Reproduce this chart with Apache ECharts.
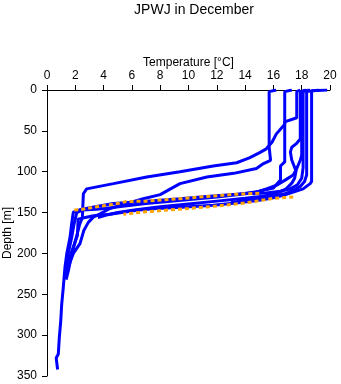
<!DOCTYPE html>
<html><head><meta charset="utf-8">
<script src="https://cdn.jsdelivr.net/npm/echarts@6/dist/echarts.min.js"></script>
<style>html,body{margin:0;padding:0;background:#fff}#c{width:341px;height:384px}</style>
</head><body><div id="c"></div>
<script>
const chartTitle = 'JPWJ in December';
const xName = 'Temperature [°C]';
const yName = 'Depth [m]';
const tempTicks = [0, 2, 4, 6, 8, 10, 12, 14, 16, 18, 20];
const depthTicks = [0, 50, 100, 150, 200, 250, 300, 350];

// Blue profiles: [temperature °C, depth m]
const profileA = [[16.2,0],[15.7,2],[15.7,70],[15.8,86],[15.3,90],[14.8,96],[13.2,102],[11.3,106.5],[9.4,114.6],[8.0,128],[6.8,133],[5.6,139],[4.45,145],[3.75,151.6],[3.27,155.6],[2.92,162],[2.6,172],[2.33,188],[1.86,200],[1.5,217],[1.35,228]];
const profileB = [[17.3,0],[16.8,2],[16.8,42],[16.2,54],[15.9,64],[15.5,72],[15.0,77],[14.3,83],[13.4,89],[11.75,93],[9.4,100],[7.05,106.5],[4.7,114.6],[2.8,121],[2.57,127],[2.5,156],[2.3,165],[2.0,185],[1.7,205],[1.5,222],[1.35,232]];
const profileC = [[17.9,0],[17.65,2],[17.65,34],[16.8,39],[16.8,88],[16.5,93],[16.5,110],[16.0,120],[15.0,124],[14.0,127],[12.0,131],[9.5,135],[7.0,139],[5.5,142],[4.5,144],[3.5,146],[2.5,147],[2.1,150],[1.9,165],[1.75,180],[1.5,200],[1.35,215]];
const profileD = [[18.5,0],[18.0,2],[18.0,80],[17.9,86],[17.6,98],[17.4,104],[16.8,110.6],[16.2,116.7],[15.5,121],[14.8,125],[13.4,127.5],[11.5,130],[9.4,133],[7.05,136],[4.7,139],[3.5,142.5],[2.3,146.6],[1.86,149.5],[1.74,164],[1.63,180],[1.4,200],[1.27,217],[1.2,231],[1.15,242],[1.04,262],[0.97,283],[0.87,303],[0.8,323],[0.65,328],[0.75,342]];
const profileE = [[19.8,0],[18.7,1],[18.7,112],[18.6,114.6],[18.1,121],[17.4,125],[16.7,129],[16.0,132],[15.0,135],[13.5,138],[11.75,141],[9.5,143.5],[7.75,145],[6.5,147],[5.4,149.5],[4.45,152],[3.3,154],[2.7,156],[2.2,158],[2.15,178],[1.9,190],[1.6,205],[1.4,220],[1.3,230]];
const profileF = [[18.3,0],[17.9,2],[17.9,60],[17.6,66],[17.3,70],[17.2,76],[17.3,86],[17.6,99],[17.5,108],[17.3,114],[16.9,121],[16.3,126],[15.3,130],[14.0,132.5],[12.0,136],[10.0,139.5],[8.0,143],[6.3,146.5],[5.0,150],[4.2,153],[3.6,156]];
const profileG = [[19.2,0],[18.35,2],[18.35,104],[18.2,112],[17.9,118],[17.4,123],[16.8,127],[16.0,130],[15.0,133],[14.0,135],[13.0,138]];
const profileH = [[18.6,0],[18.1,2],[18.1,95],[18.0,108],[17.7,116],[17.2,121],[16.5,124],[15.5,126],[14.5,127]];

// Orange observations
const orangeUpper = [[15.0,126.5],[13.4,127.5],[11.5,130],[9.4,133],[7.05,136],[5.6,136.5],[4.7,140],[3.5,143],[2.3,146.6],[1.9,147]];
const orangeLower = [[17.4,131],[16.0,132.5],[14.5,137],[13.6,139],[12.0,142],[10.0,145],[8.5,147],[7.0,149],[5.4,152]];

const blueProfiles = [profileA, profileB, profileC, profileD, profileE, profileF, profileG, profileH];
const orangeProfiles = [orangeUpper, orangeLower];

const FONT = '"Liberation Sans", Arial, sans-serif';
const series = [];
blueProfiles.forEach(p => series.push({
  type: 'line', data: p, showSymbol: false, silent: true,
  lineStyle: { color: '#0000ff', width: 3 }
}));
orangeProfiles.forEach(p => series.push({
  type: 'line', data: p, showSymbol: false, silent: true,
  lineStyle: { color: '#ffa500', width: 3, type: [4, 3] }
}));

const chart = echarts.init(document.getElementById('c'), null, { renderer: 'canvas' });
chart.setOption({
  animation: false,
  backgroundColor: '#ffffff',
  title: {
    text: chartTitle, left: 189, top: -2, textAlign: 'center',
    textStyle: { fontFamily: FONT, fontSize: 14, fontWeight: 'normal', color: '#000' }
  },
  grid: { left: 47, top: 90, right: 11, bottom: 8, containLabel: false, outerBoundsMode: 'none' },
  xAxis: {
    type: 'value', position: 'top',
    min: tempTicks[0], max: tempTicks[tempTicks.length - 1], interval: tempTicks[1] - tempTicks[0],
    name: xName, nameLocation: 'middle', nameGap: 21, nameMoveOverlap: false,
    nameTextStyle: { fontFamily: FONT, fontSize: 12, color: '#000' },
    axisLine: { show: true, onZero: false, lineStyle: { color: '#000', width: 1 } },
    axisTick: { show: true, inside: false, length: 5, lineStyle: { color: '#000' } },
    axisLabel: { fontFamily: FONT, fontSize: 12, color: '#000', margin: 8 },
    splitLine: { show: false }
  },
  yAxis: {
    type: 'value', inverse: true,
    min: depthTicks[0], max: depthTicks[depthTicks.length - 1], interval: depthTicks[1] - depthTicks[0],
    name: yName, nameLocation: 'middle', nameGap: 33, nameRotate: 90, nameMoveOverlap: false,
    nameTextStyle: { fontFamily: FONT, fontSize: 12, color: '#000' },
    axisLine: { show: true, onZero: false, lineStyle: { color: '#000', width: 1 } },
    axisTick: { show: true, inside: false, length: 5, lineStyle: { color: '#000' } },
    axisLabel: { fontFamily: FONT, fontSize: 12, color: '#000', margin: 10 },
    splitLine: { show: false }
  },
  series: series
});
</script></body></html>
